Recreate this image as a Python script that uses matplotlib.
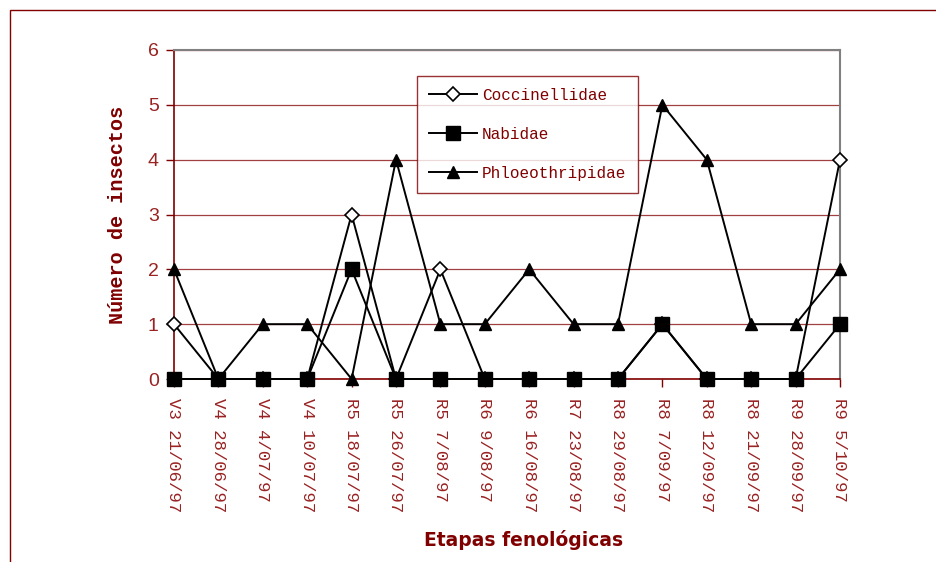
import matplotlib
matplotlib.use("Agg")
import matplotlib.pyplot as plt
from matplotlib.patches import Rectangle

# etapas fenologicas (fecha de muestreo)
etapas = ["V3 21/06/97", "V4 28/06/97", "V4 4/07/97", "V4 10/07/97",
          "R5 18/07/97", "R5 26/07/97", "R5 7/08/97", "R6 9/08/97",
          "R6 16/08/97", "R7 23/08/97", "R8 29/08/97", "R8 7/09/97",
          "R8 12/09/97", "R8 21/09/97", "R9 28/09/97", "R9 5/10/97"]

coccinellidae = [1, 0, 0, 0, 3, 0, 2, 0, 0, 0, 0, 1, 0, 0, 0, 4]
nabidae = [0, 0, 0, 0, 2, 0, 0, 0, 0, 0, 0, 1, 0, 0, 0, 1]
phloeothripidae = [2, 0, 1, 1, 0, 4, 1, 1, 2, 1, 1, 5, 4, 1, 1, 2]

ROJO = "#800000"
ROJO2 = "#992222"
GRID = "#a04040"

fig = plt.figure(figsize=(9.37, 5.62), dpi=100)
# marco exterior
fig.patches.append(Rectangle((10 / 937, -0.05), 1.0, 1 - 10 / 562 + 0.05,
                             transform=fig.transFigure, fill=False,
                             edgecolor=ROJO, lw=1.0))

ax = fig.add_axes([174 / 937, 1 - 379 / 562, 666 / 937, 329 / 562])
x = list(range(len(etapas)))

ax.plot(x, coccinellidae, color="black", lw=1.4, marker="D", ms=7,
        mfc="white", mec="black", mew=1.2, clip_on=False, zorder=3,
        label="Coccinellidae")
ax.plot(x, nabidae, color="black", lw=1.4, marker="s", ms=9.5,
        mfc="black", mec="black", clip_on=False, zorder=4, label="Nabidae")
ax.plot(x, phloeothripidae, color="black", lw=1.4, marker="^", ms=9,
        mfc="black", mec="black", clip_on=False, zorder=5,
        label="Phloeothripidae")

ax.set_xlim(0, len(etapas) - 1)
ax.set_ylim(0, 6)
ax.set_yticks(range(7))
ax.set_xticks(x)
ax.set_xticklabels(etapas, rotation=270, fontsize=12.5,
                   family="Liberation Mono", color=ROJO2)
ax.set_yticklabels([str(v) for v in range(7)], fontsize=14,
                   family="Liberation Sans", color=ROJO2)
ax.tick_params(axis="both", direction="out", length=6, width=1,
               color=ROJO, pad=5)
ax.tick_params(axis="x", pad=8)

ax.yaxis.grid(True, color=GRID, lw=0.9)
ax.set_axisbelow(True)
for s in ["top", "right"]:
    ax.spines[s].set_color("#808080")
    ax.spines[s].set_linewidth(1.5)
for s in ["left", "bottom"]:
    ax.spines[s].set_color(ROJO)
    ax.spines[s].set_linewidth(1.2)

ax.set_ylabel("Número de insectos", fontsize=14.5, fontweight="bold",
              family="Liberation Mono", color=ROJO)
ax.yaxis.set_label_coords(-(174 - 127) / 666, 0.5)
ax.set_xlabel("Etapas fenológicas", fontsize=13.5, fontweight="bold",
              family="DejaVu Sans", color=ROJO, va="center")
ax.xaxis.set_label_coords((524 - 174) / 666, -(540 - 379) / 329)

leg = ax.legend(loc="upper left", bbox_to_anchor=(243 / 666, 1 - 26 / 329),
                frameon=True, fancybox=False, edgecolor=ROJO,
                prop={"family": "Liberation Mono", "size": 11.5},
                labelspacing=1.5, borderpad=0.75, handlelength=3.0,
                handletextpad=0.3, borderaxespad=0)
leg.get_frame().set_linewidth(1.0)
for t in leg.get_texts():
    t.set_color(ROJO)

fig.savefig("out.png", dpi=100)
